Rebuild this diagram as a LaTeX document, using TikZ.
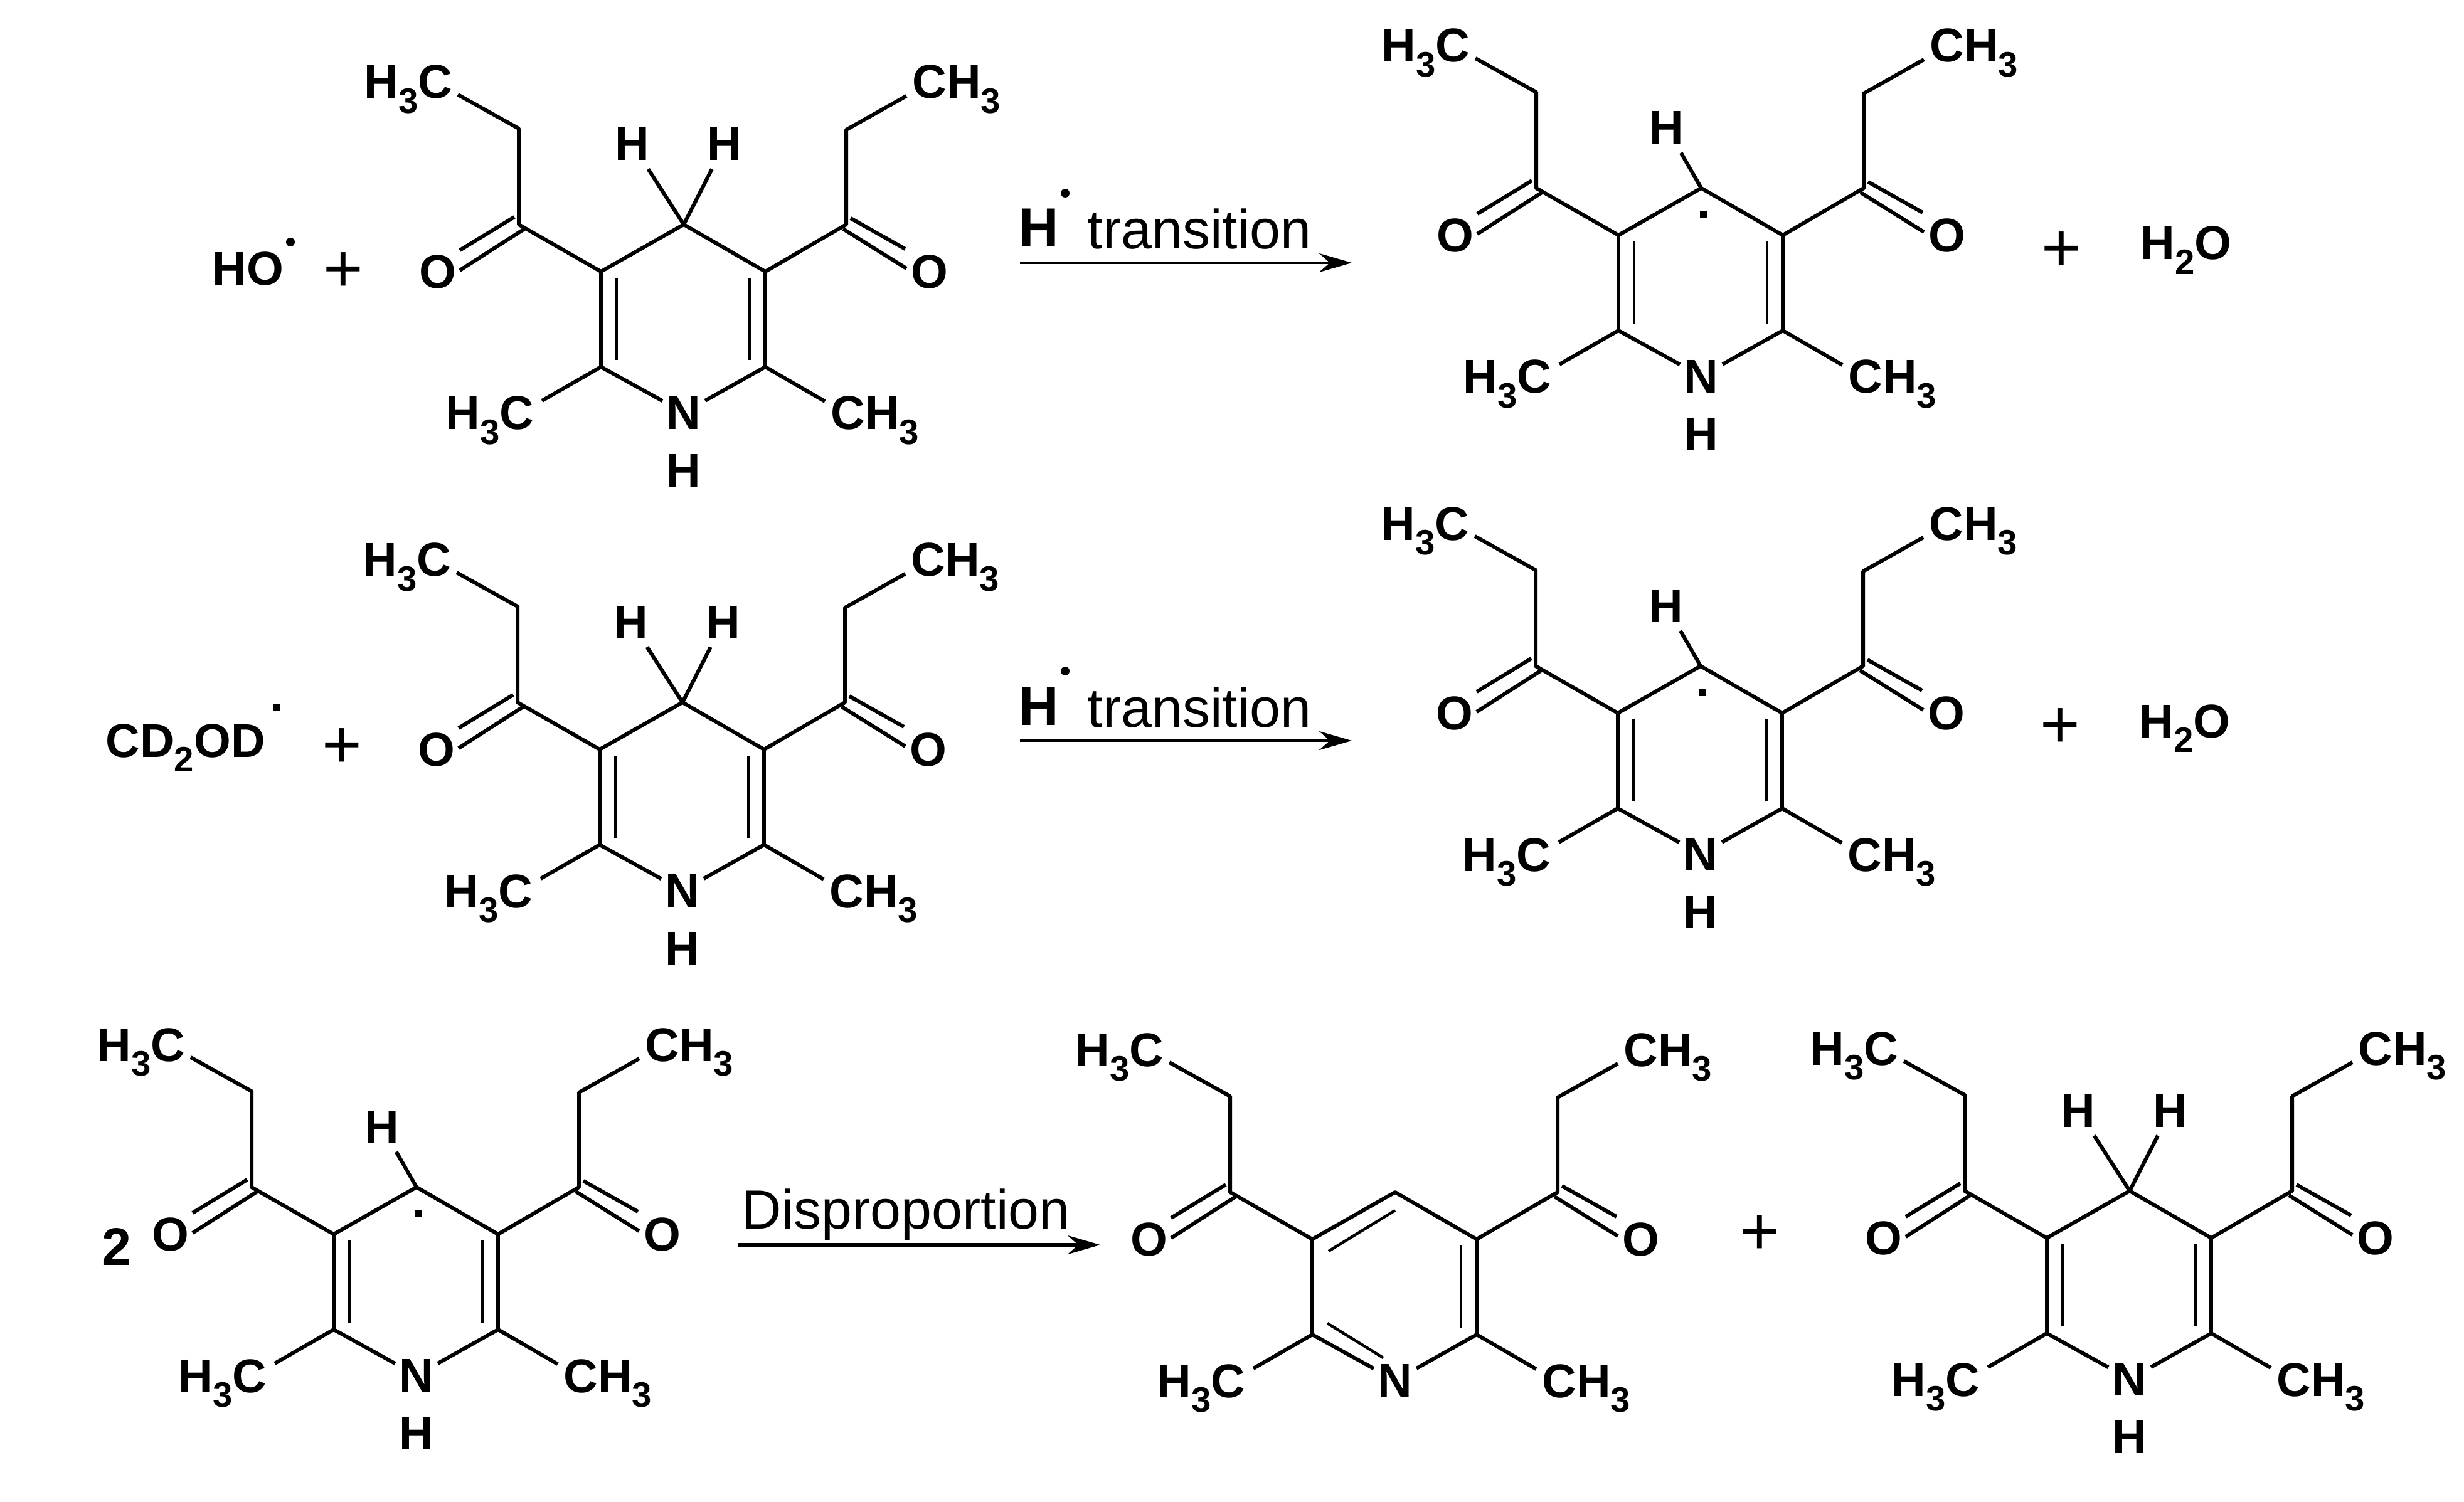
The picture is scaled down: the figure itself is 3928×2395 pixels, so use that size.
\documentclass[tikz,border=0pt]{standalone}
\usepackage{fontspec}
\setmainfont{Liberation Sans}
\usetikzlibrary{arrows.meta}
\newcommand{\subnum}[1]{\raisebox{-6.8pt}{\fontsize{16}{16}\selectfont #1}}
\tikzset{
  bond/.style={line width=0.06cm,line join=round},
  innerbond/.style={line width=0.045cm},
  atom/.style={font=\fontsize{21.5}{25}\selectfont\bfseries,inner sep=0.06cm},
  hatom/.style={atom,inner sep=0.13cm},
  group/.style={font=\fontsize{21.5}{25}\selectfont\bfseries,inner sep=0pt},
  plussign/.style={font=\fontsize{31}{34}\selectfont,inner sep=0pt},
  caption/.style={font=\fontsize{25}{30}\selectfont,inner sep=0pt,anchor=base west},
  bigh/.style={font=\fontsize{25}{30}\selectfont\bfseries,inner sep=0pt,anchor=base west},
  rounddot/.style={circle,fill=black,inner sep=0pt,minimum size=0.14cm},
  squaredot/.style={rectangle,fill=black,inner sep=0pt,minimum size=0.11cm},
  rxnarrow/.style={line width=0.045cm,-{Stealth[length=0.52cm,width=0.3cm]}}
}
\newcommand{\skeleton}[4]{%
  \begin{scope}[shift={(#2,#3)},name prefix=#1-]
    \coordinate (c4) at (0,0);
    \coordinate (c3) at (-132,75);
    \coordinate (c5) at (130,75);
    \coordinate (c2) at (-132,227);
    \coordinate (c6) at (130,227);
    \coordinate (cl) at (-263,0);
    \coordinate (cr) at (259,0);
    \coordinate (chl) at (-263,-153);
    \coordinate (chr) at (259,-151);
    \coordinate (el) at (-360,-207);
    \coordinate (er) at (355,-205);
    \coordinate (ml) at (-226,281);
    \coordinate (mr) at (225,282);
    \draw (0,300) node[atom] (n) {N};
    \draw (-368,-201) node[group,anchor=base east] (gtl) {H\subnum{3}C};
    \draw (364,-201) node[group,anchor=base west] (gtr) {CH\subnum{3}};
    \draw (-238,327) node[group,anchor=base east] (gbl) {H\subnum{3}C};
    \draw (234,327) node[group,anchor=base west] (gbr) {CH\subnum{3}};
    \draw (-392,75) node[atom] (ol) {O};
    \draw (392,75) node[atom] (or) {O};
    \draw[bond] (el) -- (chl) -- (cl) -- (c3) -- (c4) -- (c5) -- (cr) -- (chr) -- (er);
    \draw[bond] (c3) -- (c2);
    \draw[bond] (c5) -- (c6);
    \draw[bond] (c2) -- (n);
    \draw[bond] (c6) -- (n);
    \draw[bond] (c2) -- (ml);
    \draw[bond] (c6) -- (mr);
    \draw[bond] (-270,-12) coordinate (la) -- (-357,41) coordinate (lb);
    \draw[bond] (-254,7) coordinate (lc) -- (-357,73) coordinate (ld);
    \draw[bond] (266,-10) coordinate (ra) -- (353,39) coordinate (rb);
    \draw[bond] (254,7) coordinate (rc) -- (355,70) coordinate (rd);
    \draw[innerbond] (105,85) coordinate (ia) -- (105,216) coordinate (ib);
    #4
  \end{scope}}
\newcommand{\nhpart}{%
  \draw (0,392) node[atom] (nh) {H};
  \draw[innerbond] (-107,85) coordinate (ic) -- (-107,216) coordinate (id);}
\newcommand{\twohyd}{%
  \nhpart
  \draw (-82,-128) node[hatom] (hl) {H};
  \draw (65,-128) node[hatom] (hr) {H};
  \draw[bond] (c4) -- (hl);
  \draw[bond] (c4) -- (hr);}
\newcommand{\onehyd}{%
  \nhpart
  \draw (-55,-96) node[hatom] (hl) {H};
  \draw (3,42) node[squaredot] (dot) {};
  \draw[bond] (c4) -- (hl);}
\newcommand{\aromatic}{%
  \draw[innerbond] (-106,94) coordinate (ic) -- (0,29) coordinate (id);
  \draw[innerbond] (-108,209) coordinate (ie) -- (-19,264) coordinate (if);}
\begin{document}
\begin{tikzpicture}[x=0.01cm,y=-0.01cm]
  \useasboundingbox (0,0) rectangle (3928,2395);
  \skeleton{ra}{1090}{358}{\twohyd}
  \skeleton{pa}{2712}{300}{\onehyd}
  \skeleton{rb}{1088}{1120}{\twohyd}
  \skeleton{pb}{2711}{1062}{\onehyd}
  \skeleton{rc}{664}{1893}{\onehyd}
  \skeleton{pc}{2224}{1901}{\aromatic}
  \skeleton{pd}{3395}{1899}{\twohyd}
  \draw (338,455) node[group,anchor=base west] (ho) {HO};
  \draw (463,386) node[rounddot] (hodot) {};
  \draw (547,434) node[plussign] (plusa) {+};
  \draw (1624,394) node[bigh] (ha) {H};
  \draw (1698,308) node[rounddot] (hadot) {};
  \draw (1733,397) node[caption] (capa) {transition};
  \coordinate (aa) at (1626,419);
  \coordinate (ab) at (2155,419);
  \draw[rxnarrow] (aa) -- (ab);
  \draw (3286,401) node[plussign] (plusb) {+};
  \draw (3412,414) node[group,anchor=base west] (wa) {H\subnum{2}O};
  \draw (168,1207) node[group,anchor=base west] (cd) {CD\subnum{2}OD};
  \draw (440,1127) node[squaredot] (cddot) {};
  \draw (545,1193) node[plussign] (plusc) {+};
  \draw (1624,1156) node[bigh] (hb) {H};
  \draw (1698,1070) node[rounddot] (hbdot) {};
  \draw (1733,1159) node[caption] (capb) {transition};
  \coordinate (ba) at (1626,1181);
  \coordinate (bb) at (2155,1181);
  \draw[rxnarrow] (ba) -- (bb);
  \draw (3284,1161) node[plussign] (plusd) {+};
  \draw (3410,1176) node[group,anchor=base west] (wb) {H\subnum{2}O};
  \draw (162,2017) node[anchor=base west,inner sep=0pt,font=\fontsize{24}{25}\selectfont\bfseries] (two) {2};
  \draw (1182,1959) node[caption] (capc) {Disproportion};
  \coordinate (ca) at (1177,1985);
  \coordinate (cb) at (1754,1985);
  \draw[rxnarrow,line width=0.055cm] (ca) -- (cb);
  \draw (2805,1969) node[plussign] (pluse) {+};
\end{tikzpicture}
\end{document}
